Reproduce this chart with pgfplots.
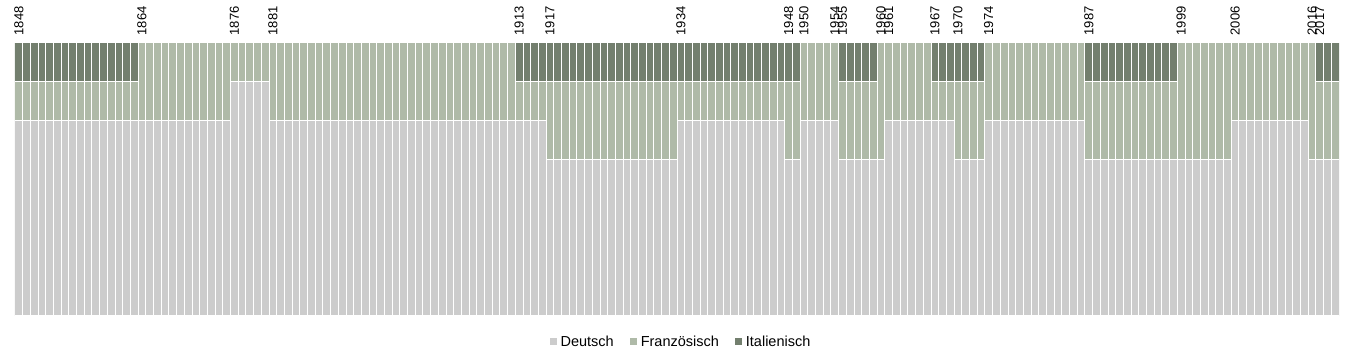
\documentclass[border=0pt]{standalone}
\usepackage{fontspec}
\setmainfont{Liberation Sans}
\usepackage{pgfplots}
\usepackage{pgfplotstable}
\pgfplotsset{compat=1.18}
\usetikzlibrary{calc}
\definecolor{de}{HTML}{CCCCCC}
\definecolor{fr}{HTML}{AFBAA8}
\definecolor{it}{HTML}{737F6E}

\pgfplotstableread[row sep=\\]{
year D F I\\
1848 5 1 1\\ 1849 5 1 1\\ 1850 5 1 1\\ 1851 5 1 1\\ 1852 5 1 1\\ 1853 5 1 1\\ 1854 5 1 1\\ 1855 5 1 1\\
1856 5 1 1\\ 1857 5 1 1\\ 1858 5 1 1\\ 1859 5 1 1\\ 1860 5 1 1\\ 1861 5 1 1\\ 1862 5 1 1\\ 1863 5 1 1\\
1864 5 2 0\\ 1865 5 2 0\\ 1866 5 2 0\\ 1867 5 2 0\\ 1868 5 2 0\\ 1869 5 2 0\\ 1870 5 2 0\\ 1871 5 2 0\\
1872 5 2 0\\ 1873 5 2 0\\ 1874 5 2 0\\ 1875 5 2 0\\
1876 6 1 0\\ 1877 6 1 0\\ 1878 6 1 0\\ 1879 6 1 0\\ 1880 6 1 0\\
1881 5 2 0\\ 1882 5 2 0\\ 1883 5 2 0\\ 1884 5 2 0\\ 1885 5 2 0\\ 1886 5 2 0\\ 1887 5 2 0\\ 1888 5 2 0\\
1889 5 2 0\\ 1890 5 2 0\\ 1891 5 2 0\\ 1892 5 2 0\\ 1893 5 2 0\\ 1894 5 2 0\\ 1895 5 2 0\\ 1896 5 2 0\\
1897 5 2 0\\ 1898 5 2 0\\ 1899 5 2 0\\ 1900 5 2 0\\ 1901 5 2 0\\ 1902 5 2 0\\ 1903 5 2 0\\ 1904 5 2 0\\
1905 5 2 0\\ 1906 5 2 0\\ 1907 5 2 0\\ 1908 5 2 0\\ 1909 5 2 0\\ 1910 5 2 0\\ 1911 5 2 0\\ 1912 5 2 0\\
1913 5 1 1\\ 1914 5 1 1\\ 1915 5 1 1\\ 1916 5 1 1\\
1917 4 2 1\\ 1918 4 2 1\\ 1919 4 2 1\\ 1920 4 2 1\\ 1921 4 2 1\\ 1922 4 2 1\\ 1923 4 2 1\\ 1924 4 2 1\\
1925 4 2 1\\ 1926 4 2 1\\ 1927 4 2 1\\ 1928 4 2 1\\ 1929 4 2 1\\ 1930 4 2 1\\ 1931 4 2 1\\ 1932 4 2 1\\
1933 4 2 1\\
1934 5 1 1\\ 1935 5 1 1\\ 1936 5 1 1\\ 1937 5 1 1\\ 1938 5 1 1\\ 1939 5 1 1\\ 1940 5 1 1\\ 1941 5 1 1\\
1942 5 1 1\\ 1943 5 1 1\\ 1944 5 1 1\\ 1945 5 1 1\\ 1946 5 1 1\\ 1947 5 1 1\\
1948 4 2 1\\ 1949 4 2 1\\
1950 5 2 0\\ 1951 5 2 0\\ 1952 5 2 0\\ 1953 5 2 0\\ 1954 5 2 0\\
1955 4 2 1\\ 1956 4 2 1\\ 1957 4 2 1\\ 1958 4 2 1\\ 1959 4 2 1\\
1960 4 3 0\\
1961 5 2 0\\ 1962 5 2 0\\ 1963 5 2 0\\ 1964 5 2 0\\ 1965 5 2 0\\ 1966 5 2 0\\
1967 5 1 1\\ 1968 5 1 1\\ 1969 5 1 1\\
1970 4 2 1\\ 1971 4 2 1\\ 1972 4 2 1\\ 1973 4 2 1\\
1974 5 2 0\\ 1975 5 2 0\\ 1976 5 2 0\\ 1977 5 2 0\\ 1978 5 2 0\\ 1979 5 2 0\\ 1980 5 2 0\\ 1981 5 2 0\\
1982 5 2 0\\ 1983 5 2 0\\ 1984 5 2 0\\ 1985 5 2 0\\ 1986 5 2 0\\
1987 4 2 1\\ 1988 4 2 1\\ 1989 4 2 1\\ 1990 4 2 1\\ 1991 4 2 1\\ 1992 4 2 1\\ 1993 4 2 1\\ 1994 4 2 1\\
1995 4 2 1\\ 1996 4 2 1\\ 1997 4 2 1\\ 1998 4 2 1\\
1999 4 3 0\\ 2000 4 3 0\\ 2001 4 3 0\\ 2002 4 3 0\\ 2003 4 3 0\\ 2004 4 3 0\\ 2005 4 3 0\\
2006 5 2 0\\ 2007 5 2 0\\ 2008 5 2 0\\ 2009 5 2 0\\ 2010 5 2 0\\ 2011 5 2 0\\ 2012 5 2 0\\ 2013 5 2 0\\
2014 5 2 0\\ 2015 5 2 0\\
2016 4 3 0\\
2017 4 2 1\\ 2018 4 2 1\\ 2019 4 2 1\\
}\data

\begin{document}
\begin{tikzpicture}
\begin{axis}[
  name=ax,
  scale only axis,
  width=1324pt, height=273pt,
  xmin=1847.5, xmax=2019.5, ymin=0, ymax=7,
  ybar stacked, bar width=1,
  hide y axis,
  axis line style={draw=none},
  major tick length=0pt,
  xtick={1848,1864,1876,1881,1913,1917,1934,1948,1950,1954,1955,1960,1961,1967,1970,1974,1987,1999,2006,2016,2017},
  xticklabel pos=upper,
  /pgf/number format/assume math mode=true,
  xticklabel style={rotate=90, anchor=west, inner xsep=7.5pt, inner ysep=0pt,
    font=\fontsize{13}{13}\selectfont, /pgf/number format/1000 sep={}},
  legend columns=3,
  legend style={draw=none, at={(0.503,-0.095)}, anchor=center,
    font=\fontsize{14.5}{16}\selectfont,
    /tikz/every odd column/.append style={column sep=2pt},
    /tikz/every even column/.append style={column sep=14pt}},
  legend image code/.code={\fill[#1,draw=none] (0pt,-3.5pt) rectangle (7pt,3.5pt);},
]
\addplot[fill=de, draw=white, line width=1pt] table[x=year,y=D]{\data};
\addplot[fill=fr, draw=white, line width=1pt] table[x=year,y=F]{\data};
\addplot[fill=it, draw=white, line width=1pt] table[x=year,y=I]{\data};
\legend{Deutsch, Französisch, Italienisch}
\end{axis}
\pgfresetboundingbox
\path[use as bounding box] ($(ax.south west)+(-15pt,-47pt)$) rectangle ($(ax.north east)+(16pt,43pt)$);
\end{tikzpicture}
\end{document}
